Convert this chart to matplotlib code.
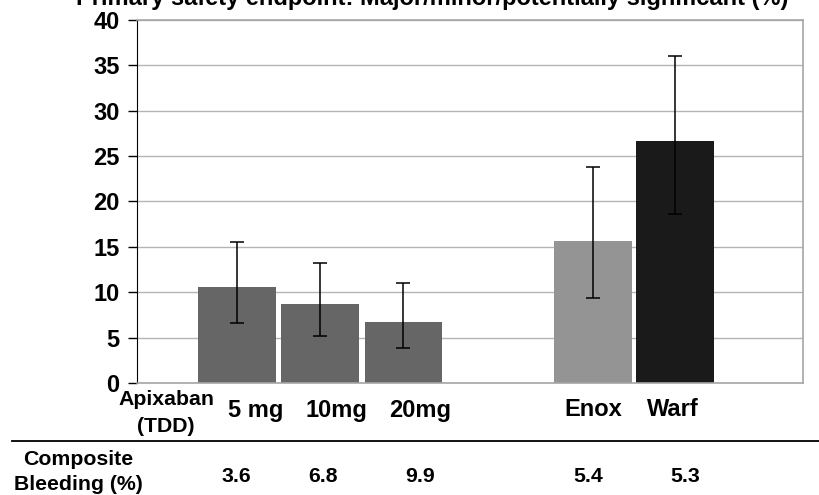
import numpy as np
import matplotlib
matplotlib.use("Agg")
import matplotlib.pyplot as plt
from matplotlib.transforms import blended_transform_factory
from matplotlib.lines import Line2D

plt.rcParams['font.family'] = ['Liberation Sans', 'DejaVu Sans']
plt.rcParams['font.weight'] = 'bold'

# data
groups = ["5 mg", "10mg", "20mg", "Enox", "Warf"]
rate = [10.6, 8.7, 6.7, 15.6, 26.7]
ci_low = [6.6, 5.2, 3.9, 9.4, 18.6]
ci_high = [15.5, 13.2, 11.0, 23.8, 36.0]
composite = ["3.6", "6.8", "9.9", "5.4", "5.3"]
colors = ["#666666", "#666666", "#666666", "#949494", "#1a1a1a"]

# layout
xpos = np.array([1.2, 2.2, 3.2, 5.48, 6.46])
label_x = [1.43, 2.4, 3.4, 5.48, 6.44]
comp_x = [1.19, 2.23, 3.4, 5.42, 6.58]

rate = np.array(rate)
yerr = [rate - np.array(ci_low), np.array(ci_high) - rate]

fig = plt.figure(figsize=(8.2, 4.95), dpi=100, facecolor='white')
ax = fig.add_axes([137/820, 1 - 383/495, 666/820, 363/495])

ax.bar(xpos, rate, width=0.93, color=colors, zorder=2)
ax.errorbar(xpos, rate, yerr=yerr, fmt='none', ecolor='black', elinewidth=1.1,
            capsize=5, capthick=1.1, zorder=3)

ax.set_xlim(0, 8)
ax.set_ylim(0, 40)
ax.set_yticks(np.arange(0, 41, 5))
ax.set_xticks([])
ax.yaxis.grid(True, color='#b4b4b4', linewidth=1.0, zorder=0)
ax.set_axisbelow(True)
for s in ['top', 'right', 'bottom']:
    ax.spines[s].set_color('#a6a6a6')
    ax.spines[s].set_linewidth(1.2)
ax.spines['left'].set_color('black')
ax.tick_params(axis='y', direction='out', length=6.5, width=1, pad=6,
               labelsize=17, colors='black')
for lbl in ax.get_yticklabels():
    lbl.set_fontweight('bold')

# category labels under the axis
tr = blended_transform_factory(ax.transData, fig.transFigure)
ax.text(0.35, 1 - 413/495, "Apixaban\n(TDD)", transform=tr, ha='center', va='center',
        fontsize=15.3, fontweight='bold', linespacing=1.55)
for x, g in zip(label_x, groups):
    ax.text(x, 1 - 410/495, g, transform=tr, ha='center', va='center',
            fontsize=17, fontweight='bold')

fig.add_artist(Line2D([12/820, 1], [1 - 441/495, 1 - 441/495], color='black',
                      linewidth=1.3, transform=fig.transFigure))

fig.text(78/820, 1 - 472/495, "Composite\nBleeding (%)", ha='center', va='center',
         fontsize=15.3, fontweight='bold', linespacing=1.4)
for x, c in zip(comp_x, composite):
    ax.text(x, 1 - 476/495, c, transform=tr, ha='center', va='center',
            fontsize=15.3, fontweight='bold')

fig.text(432/820, 1 - 5/495, "Primary safety endpoint: Major/minor/potentially significant (%)",
         ha='center', va='baseline', fontsize=17, fontweight='bold')

fig.savefig('out.png', dpi=100, facecolor='white')
